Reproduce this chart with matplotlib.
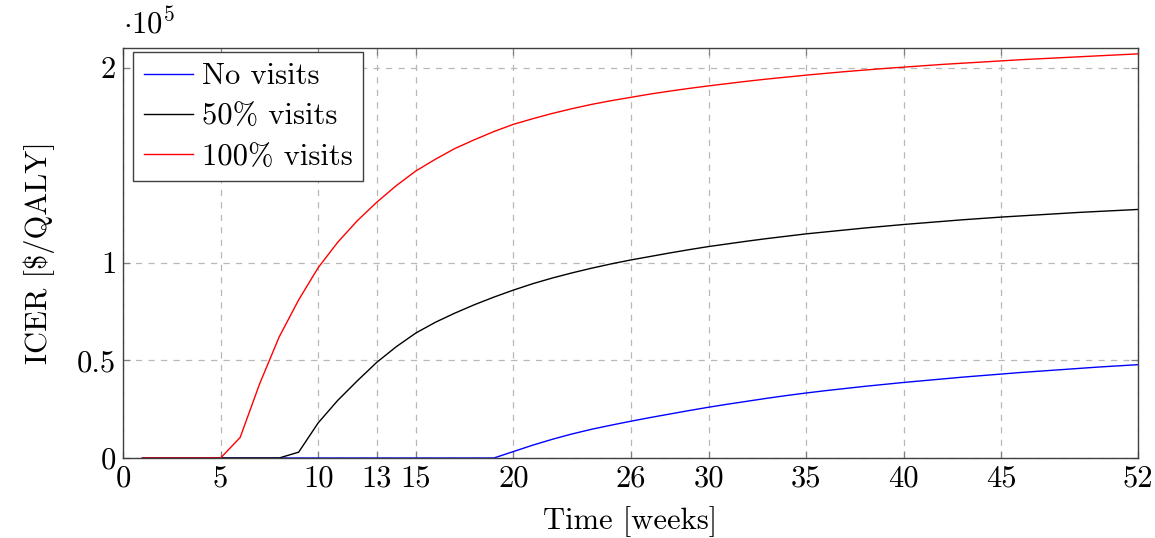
import numpy as np
import matplotlib.pyplot as plt

weeks = list(range(1, 53))

# ICER values in units of 1e5 $/QALY
no_visits = [0] * 19 + [
    0.033, 0.066, 0.096, 0.123, 0.147, 0.168, 0.188, 0.207, 0.225, 0.243,
    0.26, 0.276, 0.291, 0.306, 0.32, 0.333, 0.345, 0.356, 0.367, 0.377,
    0.387, 0.396, 0.405, 0.414, 0.422, 0.43, 0.438, 0.445, 0.452, 0.459,
    0.466, 0.472, 0.478]
half_visits = [0] * 8 + [
    0.03, 0.18, 0.295, 0.395, 0.49, 0.57, 0.64, 0.695, 0.742, 0.785,
    0.824, 0.86, 0.893, 0.922, 0.948, 0.972, 0.994, 1.014, 1.032, 1.05,
    1.067, 1.083, 1.097, 1.111, 1.124, 1.136, 1.148, 1.158, 1.168, 1.178,
    1.187, 1.196, 1.204, 1.212, 1.22, 1.227, 1.234, 1.24, 1.246, 1.252,
    1.258, 1.263, 1.268, 1.273]
full_visits = [0] * 5 + [
    0.105, 0.38, 0.62, 0.81, 0.975, 1.105, 1.215, 1.31, 1.395, 1.47,
    1.53, 1.585, 1.63, 1.672, 1.709, 1.738, 1.765, 1.789, 1.811, 1.83,
    1.847, 1.864, 1.879, 1.893, 1.906, 1.918, 1.93, 1.941, 1.951, 1.961,
    1.97, 1.979, 1.987, 1.995, 2.002, 2.009, 2.016, 2.022, 2.028, 2.034,
    2.04, 2.045, 2.05, 2.055, 2.06, 2.065, 2.07]

labels = ["No visits", "50% visits", "100% visits"]
xticks = [0, 5, 10, 13, 15, 20, 26, 30, 35, 40, 45, 52]
yticks = [0, 0.5, 1, 2]
ytick_labels = ["0", "0.5", "1", "2"]

plt.rcParams['font.family'] = 'cmr10'
plt.rcParams['mathtext.fontset'] = 'cm'
plt.rcParams['axes.formatter.use_mathtext'] = True

fig = plt.figure(figsize=(11.55, 5.38), dpi=100)
ax = fig.add_axes([0.1065, 0.1487, 0.8788, 0.7621])

scale = 1e5
ax.plot(weeks, np.array(no_visits) * scale, color='blue', lw=1.0, label=labels[0])
ax.plot(weeks, np.array(half_visits) * scale, color='black', lw=1.0, label=labels[1])
ax.plot(weeks, np.array(full_visits) * scale, color='red', lw=1.0, label=labels[2])

ax.set_xlim(0, 52)
ax.set_ylim(0, 2.1e5)
ax.set_xticks(xticks)
ax.set_xticklabels([str(t) for t in xticks])
ax.set_yticks([v * scale for v in yticks])
ax.set_yticklabels(ytick_labels)

ax.grid(True, color='#b8b8b8', linestyle=(0, (5, 5)), lw=0.9)
ax.tick_params(direction='in', top=True, right=True, length=5, width=0.9,
               color='#808080', labelsize=22, pad=5)
for s in ax.spines.values():
    s.set_color('#404040')
    s.set_linewidth(1.0)

ax.set_xlabel('Time [weeks]', fontsize=22, labelpad=10)
ax.set_ylabel(r'ICER [\$/QALY]', fontsize=22, labelpad=16)
ax.text(0.0, 1.02, r'$\cdot 10^5$', transform=ax.transAxes, fontsize=22,
        ha='left', va='bottom')

leg = ax.legend(loc='upper left', fontsize=22, frameon=True, fancybox=False,
                framealpha=1, edgecolor='#404040', handlelength=1.6,
                handletextpad=0.3, borderpad=0.35, labelspacing=0.42,
                borderaxespad=0, bbox_to_anchor=(0.01, 0.99))
leg.get_frame().set_linewidth(1.0)

fig.savefig('out.png', dpi=100)
